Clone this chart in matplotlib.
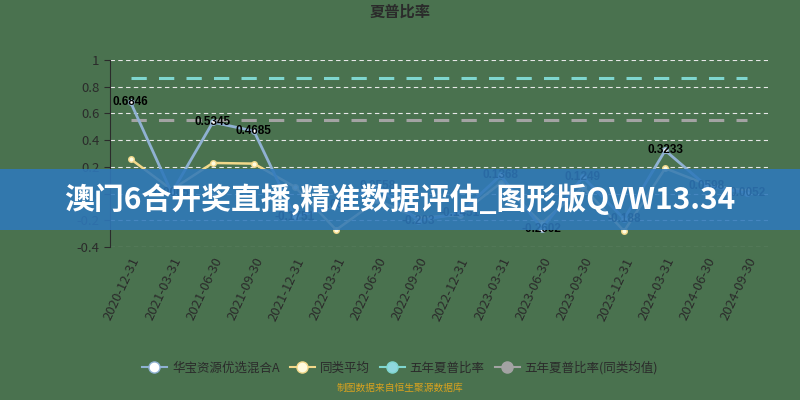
import matplotlib.pyplot as plt
from matplotlib.patches import Rectangle
from matplotlib.lines import Line2D

plt.rcParams['font.family'] = ['Noto Sans CJK SC', 'DejaVu Sans']

dates = ['2020-12-31', '2021-03-31', '2021-06-30', '2021-09-30', '2021-12-31',
         '2022-03-31', '2022-06-30', '2022-09-30', '2022-12-31', '2023-03-31',
         '2023-06-30', '2023-09-30', '2023-12-31', '2024-03-31', '2024-06-30',
         '2024-09-30']
fund = [0.6846, 0.0065, 0.5345, 0.4685, -0.1751, -0.0862, 0.0558, -0.203,
        -0.1451, 0.1368, -0.2602, 0.1249, -0.188, 0.3233, 0.0598, 0.0052]
peer_avg = [0.26, 0.03, 0.23, 0.225, 0.05, -0.27, -0.05, -0.18,
            -0.16, 0.08, -0.22, 0.05, -0.28, 0.19, 0.07, 0.02]
five_year = 0.865
five_year_peer = 0.555

names = ['华宝资源优选混合A', '同类平均', '五年夏普比率', '五年夏普比率(同类均值)']
bg = '#4a724f'
txt = '#2b2b2b'

fig = plt.figure(figsize=(8, 4), dpi=100, facecolor=bg)
ax = fig.add_axes([0.1375, 0.382, 0.8225, 0.468], facecolor=bg)

x = list(range(len(dates)))
ax.plot(x, [five_year] * len(x), color='#7fd6cf', lw=2.2, dashes=(5, 4))
ax.plot(x, [five_year_peer] * len(x), color='#a3a3a3', lw=2.2, dashes=(5, 4))
ax.plot(x, peer_avg, color='#f2d88a', lw=1.8, marker='o', ms=4,
        mfc='#fffbe0', mec='#f2d88a')
ax.plot(x, fund, color='#8fb1d2', lw=2, marker='o', ms=4,
        mfc='white', mec='#8fb1d2')
for xi, v in zip(x, fund):
    ax.text(xi, v, f'{v:g}', ha='center', va='center', fontsize=8.5,
            color='black', family='Liberation Sans', fontweight='bold')

ax.set_xlim(-0.5, len(dates) - 0.5)
ax.set_ylim(-0.4, 1)
ax.set_yticks([-0.4, -0.2, 0, 0.2, 0.4, 0.6, 0.8, 1])
ax.set_yticklabels(['-0.4', '-0.2', '0', '0.2', '0.4', '0.6', '0.8', '1'])
ax.set_xticks(x)
ax.set_xticklabels(dates, rotation=65, ha='right', rotation_mode='anchor')
ax.tick_params(axis='y', colors=txt, labelsize=9.5, length=4)
ax.tick_params(axis='x', colors=txt, labelsize=9.5, length=0, pad=6)
ax.grid(axis='y', color='#e8e8e8', ls=(0, (4, 3)), lw=0.8)
for s in ['top', 'right', 'bottom']:
    ax.spines[s].set_visible(False)
ax.spines['left'].set_color(txt)

fig.text(0.5, 0.97, '夏普比率', ha='center', va='center', fontsize=11,
         fontweight='bold', color=txt)

handles = [
    Line2D([], [], color='#8fb1d2', lw=1.5, marker='o', ms=8, mfc='white', mec='#8fb1d2'),
    Line2D([], [], color='#f2d88a', lw=1.5, marker='o', ms=8, mfc='#fffbe0', mec='#f2d88a'),
    Line2D([], [], color='#7fd6cf', lw=1.5, marker='o', ms=8, mfc='#8fd8de', mec='#7fd6cf'),
    Line2D([], [], color='#a3a3a3', lw=1.5, marker='o', ms=8, mfc='#a3a3a3', mec='#a3a3a3'),
]
fig.legend(handles, names, loc='center', bbox_to_anchor=(0.5, 0.08), ncol=4,
           frameon=False, fontsize=9, labelcolor=txt, handlelength=2,
           columnspacing=0.8, handletextpad=0.4)
fig.text(0.5, 0.03, '制图数据来自恒生聚源数据库', ha='center', va='center',
         fontsize=7, color='#d9a21f')

fig.patches.append(Rectangle((0, 0.425), 1, 0.1525, transform=fig.transFigure,
                             facecolor='#2f79bb', alpha=0.88, zorder=10))
fig.text(0.5, 0.5, '澳门6合开奖直播,精准数据评估_图形版QVW13.34', ha='center',
         va='center', fontsize=21.5, fontweight='bold', color='white', zorder=11)

fig.savefig('out.png', dpi=100, facecolor=bg)
